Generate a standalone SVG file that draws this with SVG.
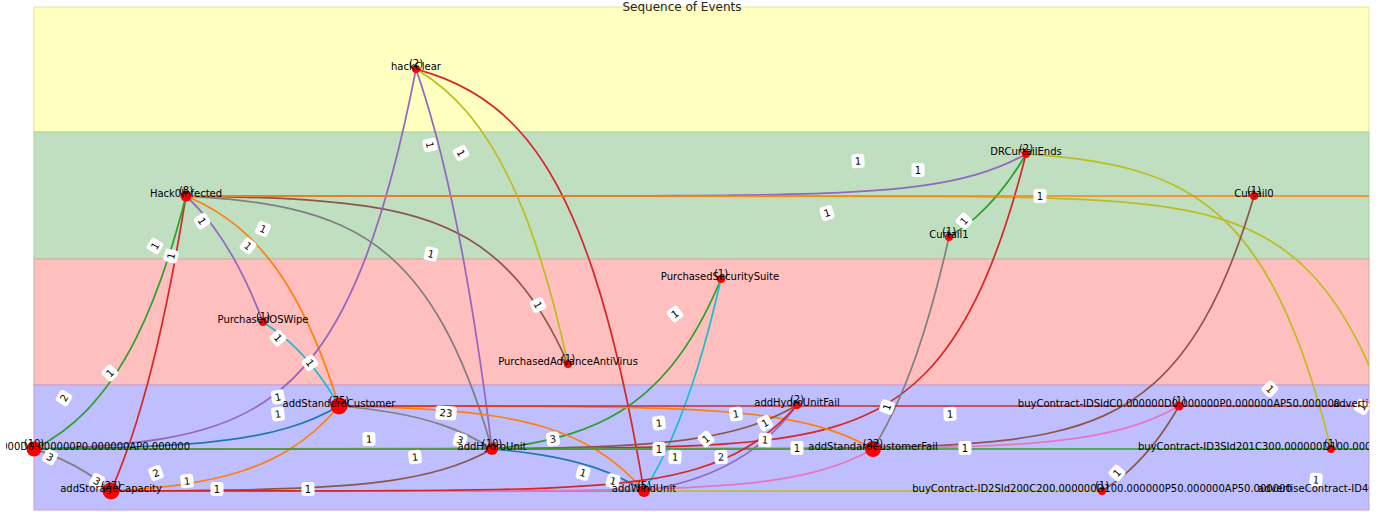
<svg xmlns="http://www.w3.org/2000/svg" width="1384" height="512" viewBox="0 0 1384 512">
<style>
.e{fill:none;stroke-width:1.7}
.bl{stroke:#1f77b4}.or{stroke:#ff7f0e}.gr{stroke:#2ca02c}.rd{stroke:#d62728}.pu{stroke:#9467bd}
.br{stroke:#8c564b}.pk{stroke:#e377c2}.gy{stroke:#7f7f7f}.ol{stroke:#bcbd22}.cy{stroke:#17becf}
.lb rect{fill:#fff}
.lb text{font-family:'DejaVu Sans',sans-serif;font-size:10px;text-anchor:middle;fill:#000}
.nd circle{fill:#ff0000}
.nd text{font-family:'DejaVu Sans',sans-serif;font-size:10px;text-anchor:middle;fill:#000}
.band{stroke-width:1}
</style>
<defs>
<!-- unit exponential profile y = exp(0.0135 x), x in [-1800, 0]; each edge rescales it vertically -->
<path id="ex" fill="none" vector-effect="non-scaling-stroke" d="M-1800,0 L-500,0.001171 C-483.333,0.001434 -466.667,0.001783 -450,0.002300 C-433.333,0.002818 -416.667,0.003501 -400,0.004517 C-383.333,0.005533 -366.667,0.006875 -350,0.008871 C-333.333,0.010867 -316.667,0.013502 -300,0.017422 C-283.333,0.021342 -266.667,0.026519 -250,0.034218 C-233.333,0.041917 -216.667,0.052085 -200,0.067206 C-183.333,0.082327 -166.667,0.102295 -150,0.131994 C-133.333,0.161693 -116.667,0.200911 -100,0.259240 C-83.333,0.317569 -66.667,0.394596 -50,0.509156 C-33.333,0.623716 -16.667,0.775 0,1"/>
<clipPath id="ax"><rect x="34" y="7" width="1335" height="503"/></clipPath>
<clipPath id="vw"><rect x="6" y="0" width="1363" height="512"/></clipPath>
<clipPath id="k1"><rect x="34" y="0" width="152" height="512"/></clipPath>
<clipPath id="k2"><rect x="111" y="0" width="75" height="512"/></clipPath>
<clipPath id="k3"><rect x="186" y="0" width="77" height="512"/></clipPath>
<clipPath id="k4"><rect x="186" y="0" width="382" height="512"/></clipPath>
<clipPath id="k5"><rect x="186" y="0" width="306" height="512"/></clipPath>
<clipPath id="k6"><rect x="416" y="0" width="76" height="512"/></clipPath>
<clipPath id="k7"><rect x="416" y="0" width="228" height="512"/></clipPath>
<clipPath id="k8"><rect x="186" y="0" width="1224" height="512"/></clipPath>
<clipPath id="k9"><rect x="416" y="0" width="152" height="512"/></clipPath>
<clipPath id="k10"><rect x="492" y="0" width="229" height="512"/></clipPath>
<clipPath id="k11"><rect x="186" y="0" width="840" height="512"/></clipPath>
<clipPath id="k12"><rect x="34" y="0" width="992" height="512"/></clipPath>
<clipPath id="k13"><rect x="949" y="0" width="77" height="512"/></clipPath>
<clipPath id="k14"><rect x="34" y="0" width="382" height="512"/></clipPath>
<clipPath id="k15"><rect x="263" y="0" width="76" height="512"/></clipPath>
<clipPath id="k16"><rect x="186" y="0" width="153" height="512"/></clipPath>
<clipPath id="k17"><rect x="34" y="0" width="1220" height="512"/></clipPath>
<clipPath id="k18"><rect x="34" y="0" width="305" height="512"/></clipPath>
<clipPath id="k19"><rect x="34" y="0" width="77" height="512"/></clipPath>
<clipPath id="k20"><rect x="111" y="0" width="228" height="512"/></clipPath>
<clipPath id="k21"><rect x="111" y="0" width="381" height="512"/></clipPath>
<clipPath id="k22"><rect x="339" y="0" width="534" height="512"/></clipPath>
<clipPath id="k23"><rect x="339" y="0" width="153" height="512"/></clipPath>
<clipPath id="k24"><rect x="492" y="0" width="305" height="512"/></clipPath>
<clipPath id="k25"><rect x="111" y="0" width="686" height="512"/></clipPath>
<clipPath id="k26"><rect x="644" y="0" width="153" height="512"/></clipPath>
<clipPath id="k29"><rect x="111" y="0" width="762" height="512"/></clipPath>
<clipPath id="k30"><rect x="339" y="0" width="305" height="512"/></clipPath>
<clipPath id="k31"><rect x="492" y="0" width="152" height="512"/></clipPath>
<clipPath id="k32"><rect x="873" y="0" width="76" height="512"/></clipPath>
<clipPath id="k33"><rect x="34" y="0" width="1145" height="512"/></clipPath>
<clipPath id="k34"><rect x="1026" y="0" width="305" height="512"/></clipPath>
<clipPath id="k35"><rect x="1102" y="0" width="77" height="512"/></clipPath>
<clipPath id="k37"><rect x="644" y="0" width="77" height="512"/></clipPath>
</defs>

<rect width="1384" height="512" fill="#ffffff"/>

<!-- horizontal bands -->
<g id="bands">
<rect class="band" x="34" y="7" width="1335" height="125" fill="#ffffc0" stroke="#e6e69a"/>
<rect class="band" x="34" y="132" width="1335" height="127" fill="#c0dfc0" stroke="#a8d2a0"/>
<rect class="band" x="34" y="259" width="1335" height="126" fill="#ffbfbf" stroke="#d9a59c"/>
<rect class="band" x="34" y="385" width="1335" height="125" fill="#bfbfff" stroke="#c79ad8"/>
</g>

<text x="682" y="11" font-family="'DejaVu Sans',sans-serif" font-size="12" text-anchor="middle" fill="#262626">Sequence of Events</text>

<g id="connectors" clip-path="url(#ax)">
<g id="edges">
<g clip-path="url(#k4)"><use href="#ex" class="e br" transform="translate(568,195.03) scale(1,168.97)"/></g>
<g clip-path="url(#k5)"><use href="#ex" class="e gy" transform="translate(492,191.87) scale(1,257.13)"/></g>
<g clip-path="url(#k3)"><use href="#ex" class="e pu" transform="translate(263,127.07) scale(1,194.93)"/></g>
<g clip-path="url(#k16)"><use href="#ex" class="e or" transform="translate(339,165.52) scale(1,240.48)"/></g>
<g clip-path="url(#k8)"><use href="#ex" class="e ol" transform="translate(1410,196) scale(1,295)"/></g>
<g clip-path="url(#k11)"><use href="#ex" class="e pu" transform="translate(1026,196) scale(1,-42)"/></g>
<g clip-path="url(#k6)"><use href="#ex" class="e pu" transform="translate(492,-143.3) scale(1,592.3)"/></g>
<g clip-path="url(#k7)"><use href="#ex" class="e rd" transform="translate(644,48.63) scale(1,442.37)"/></g>
<g clip-path="url(#k9)"><use href="#ex" class="e ol" transform="translate(568,25.51) scale(1,338.49)"/></g>
<g clip-path="url(#k14)"><use href="#ex" class="e pu" transform="translate(416,451.2) scale(1,-382.2)"/></g>
<g clip-path="url(#k2)"><use href="#ex" class="e rd" transform="translate(186,659.3) scale(1,-463.3)"/></g>
<g clip-path="url(#k1)"><use href="#ex" class="e gr" transform="translate(186,486.3) scale(1,-290.3)"/></g>
<g clip-path="url(#k15)"><use href="#ex" class="e cy" transform="translate(339,275.07) scale(1,130.93)"/></g>
<g clip-path="url(#k10)"><use href="#ex" class="e gr" transform="translate(721,457.09) scale(1,-178.09)"/></g>
<g clip-path="url(#k37)"><use href="#ex" class="e cy" transform="translate(721,606.99) scale(1,-327.99)"/></g>
<g clip-path="url(#k13)"><use href="#ex" class="e gr" transform="translate(1026,282.41) scale(1,-128.41)"/></g>
<g clip-path="url(#k34)"><use href="#ex" class="e ol" transform="translate(1331,149.12) scale(1,299.88)"/></g>
<g clip-path="url(#k17)"><use href="#ex" class="e br" transform="translate(1254,449) scale(1,-253)"/></g>
<g clip-path="url(#k12)"><use href="#ex" class="e rd" transform="translate(1026,449) scale(1,-295)"/></g>
<g clip-path="url(#k33)"><use href="#ex" class="e pk" transform="translate(1179,449) scale(1,-43)"/></g>
<g clip-path="url(#k32)"><use href="#ex" class="e gy" transform="translate(949,567.44) scale(1,-330.44)"/></g>
<g clip-path="url(#k35)"><use href="#ex" class="e br" transform="translate(1179,537.5) scale(1,-131.5)"/></g>
<g clip-path="url(#k18)"><use href="#ex" class="e bl" transform="translate(339,449.71) scale(1,-43.71)"/></g>
<g clip-path="url(#k19)"><use href="#ex" class="e gy" transform="translate(111,426.02) scale(1,64.98)"/></g>
<g clip-path="url(#k20)"><use href="#ex" class="e or" transform="translate(339,495.1) scale(1,-89.1)"/></g>
<g clip-path="url(#k21)"><use href="#ex" class="e br" transform="translate(492,491.25) scale(1,-42.25)"/></g>
<g clip-path="url(#k23)"><use href="#ex" class="e gy" transform="translate(492,399.76) scale(1,49.24)"/></g>
<g clip-path="url(#k22)"><use href="#ex" class="e or" transform="translate(873,405.97) scale(1,43.03)"/></g>
<g clip-path="url(#k30)"><use href="#ex" class="e or" transform="translate(644,404.59) scale(1,86.41)"/></g>
<g clip-path="url(#k24)"><use href="#ex" class="e br" transform="translate(797,449.73) scale(1,-44.73)"/></g>
<g clip-path="url(#k31)"><use href="#ex" class="e bl" transform="translate(644,442.81) scale(1,48.19)"/></g>
<g clip-path="url(#k26)"><use href="#ex" class="e pu" transform="translate(797,503.48) scale(1,-98.48)"/></g>
<!-- straight runs along a row -->
<path class="e or" d="M186,196 H1369"/>
<path class="e rd" d="M339,406 H1369"/>
<path class="e gr" d="M34,449 H1369"/>
<path class="e ol" d="M111,491 H1102"/>
<path class="e cy" d="M111,491 H644"/>
<g clip-path="url(#k29)"><use href="#ex" class="e pk" transform="translate(873,491) scale(1,-42)"/></g>
<g clip-path="url(#k25)"><use href="#ex" class="e rd" transform="translate(797,491) scale(1,-86)"/></g>
</g>

<g id="edge-labels" class="lb">
<g transform="translate(155,246) rotate(-59)"><rect x="-6.5" y="-7" width="13" height="14" rx="3"/><text y="3.6">1</text></g>
<g transform="translate(171,256) rotate(-75.7)"><rect x="-6.5" y="-7" width="13" height="14" rx="3"/><text y="3.6">1</text></g>
<g transform="translate(202,221) rotate(58.6)"><rect x="-6.5" y="-7" width="13" height="14" rx="3"/><text y="3.6">1</text></g>
<g transform="translate(263,229) rotate(23.7)"><rect x="-6.5" y="-7" width="13" height="14" rx="3"/><text y="3.6">1</text></g>
<g transform="translate(248,246) rotate(39.6)"><rect x="-6.5" y="-7" width="13" height="14" rx="3"/><text y="3.6">1</text></g>
<g transform="translate(430,145) rotate(78.7)"><rect x="-6.5" y="-7" width="13" height="14" rx="3"/><text y="3.6">1</text></g>
<g transform="translate(461,153) rotate(61.6)"><rect x="-6.5" y="-7" width="13" height="14" rx="3"/><text y="3.6">1</text></g>
<g transform="translate(431,254) rotate(13.5)"><rect x="-6.5" y="-7" width="13" height="14" rx="3"/><text y="3.6">1</text></g>
<g transform="translate(538,305) rotate(62.7)"><rect x="-6.5" y="-7" width="13" height="14" rx="3"/><text y="3.6">1</text></g>
<g transform="translate(675,314) rotate(-36.6)"><rect x="-6.5" y="-7" width="13" height="14" rx="3"/><text y="3.6">1</text></g>
<g transform="translate(858,161) rotate(-2.9)"><rect x="-6.5" y="-7" width="13" height="14" rx="3"/><text y="3.6">1</text></g>
<g transform="translate(918,170)"><rect x="-6.5" y="-7" width="13" height="14" rx="3"/><text y="3.6">1</text></g>
<g transform="translate(827,213) rotate(-16.6)"><rect x="-6.5" y="-7" width="13" height="14" rx="3"/><text y="3.6">1</text></g>
<g transform="translate(964,221) rotate(-47.1)"><rect x="-6.5" y="-7" width="13" height="14" rx="3"/><text y="3.6">1</text></g>
<g transform="translate(1040,196)"><rect x="-6.5" y="-7" width="13" height="14" rx="3"/><text y="3.6">1</text></g>
<g transform="translate(110,373) rotate(-44.8)"><rect x="-6.5" y="-7" width="13" height="14" rx="3"/><text y="3.6">1</text></g>
<g transform="translate(64,398) rotate(-59)"><rect x="-6.5" y="-7" width="13" height="14" rx="3"/><text y="3.6">2</text></g>
<g transform="translate(278,338) rotate(47.9)"><rect x="-6.5" y="-7" width="13" height="14" rx="3"/><text y="3.6">1</text></g>
<g transform="translate(310,363) rotate(53.9)"><rect x="-6.5" y="-7" width="13" height="14" rx="3"/><text y="3.6">1</text></g>
<g transform="translate(278,397) rotate(-11.7)"><rect x="-6.5" y="-7" width="13" height="14" rx="3"/><text y="3.6">1</text></g>
<g transform="translate(278,414) rotate(-8)"><rect x="-6.5" y="-7" width="13" height="14" rx="3"/><text y="3.6">1</text></g>
<g transform="translate(50,457) rotate(28.6)"><rect x="-6.5" y="-7" width="13" height="14" rx="3"/><text y="3.6">3</text></g>
<g transform="translate(97,481) rotate(28.6)"><rect x="-6.5" y="-7" width="13" height="14" rx="3"/><text y="3.6">3</text></g>
<g transform="translate(156,473) rotate(-20.4)"><rect x="-6.5" y="-7" width="13" height="14" rx="3"/><text y="3.6">2</text></g>
<g transform="translate(187,481) rotate(-6.3)"><rect x="-6.5" y="-7" width="13" height="14" rx="3"/><text y="3.6">1</text></g>
<g transform="translate(217,489)"><rect x="-6.5" y="-7" width="13" height="14" rx="3"/><text y="3.6">1</text></g>
<g transform="translate(308,489)"><rect x="-6.5" y="-7" width="13" height="14" rx="3"/><text y="3.6">1</text></g>
<g transform="translate(369,439) rotate(-1.5)"><rect x="-6.5" y="-7" width="13" height="14" rx="3"/><text y="3.6">1</text></g>
<g transform="translate(415,457) rotate(-6.3)"><rect x="-6.5" y="-7" width="13" height="14" rx="3"/><text y="3.6">1</text></g>
<g transform="translate(446,413) rotate(4.6)"><rect x="-10.5" y="-7" width="21" height="14" rx="3"/><text y="3.6">23</text></g>
<g transform="translate(460,440) rotate(15.7)"><rect x="-6.5" y="-7" width="13" height="14" rx="3"/><text y="3.6">3</text></g>
<g transform="translate(553,439) rotate(-8.2)"><rect x="-6.5" y="-7" width="13" height="14" rx="3"/><text y="3.6">3</text></g>
<g transform="translate(659,423) rotate(-7.1)"><rect x="-6.5" y="-7" width="13" height="14" rx="3"/><text y="3.6">1</text></g>
<g transform="translate(736,414) rotate(-8.2)"><rect x="-6.5" y="-7" width="13" height="14" rx="3"/><text y="3.6">1</text></g>
<g transform="translate(765,423) rotate(-29.3)"><rect x="-6.5" y="-7" width="13" height="14" rx="3"/><text y="3.6">1</text></g>
<g transform="translate(765,440) rotate(4.6)"><rect x="-6.5" y="-7" width="13" height="14" rx="3"/><text y="3.6">1</text></g>
<g transform="translate(706,439) rotate(-39.8)"><rect x="-6.5" y="-7" width="13" height="14" rx="3"/><text y="3.6">1</text></g>
<g transform="translate(675,457) rotate(2.6)"><rect x="-6.5" y="-7" width="13" height="14" rx="3"/><text y="3.6">1</text></g>
<g transform="translate(659,449)"><rect x="-6.5" y="-7" width="13" height="14" rx="3"/><text y="3.6">1</text></g>
<g transform="translate(721,457) rotate(-3.2)"><rect x="-6.5" y="-7" width="13" height="14" rx="3"/><text y="3.6">2</text></g>
<g transform="translate(797,448)"><rect x="-6.5" y="-7" width="13" height="14" rx="3"/><text y="3.6">1</text></g>
<g transform="translate(583,473) rotate(15.6)"><rect x="-6.5" y="-7" width="13" height="14" rx="3"/><text y="3.6">1</text></g>
<g transform="translate(613,481) rotate(15.4)"><rect x="-6.5" y="-7" width="13" height="14" rx="3"/><text y="3.6">1</text></g>
<g transform="translate(887,407) rotate(-70.3)"><rect x="-6.5" y="-7" width="13" height="14" rx="3"/><text y="3.6">1</text></g>
<g transform="translate(950,414) rotate(-2.2)"><rect x="-6.5" y="-7" width="13" height="14" rx="3"/><text y="3.6">1</text></g>
<g transform="translate(965,448)"><rect x="-6.5" y="-7" width="13" height="14" rx="3"/><text y="3.6">1</text></g>
<g transform="translate(1270,389) rotate(44)"><rect x="-6.5" y="-7" width="13" height="14" rx="3"/><text y="3.6">1</text></g>
<g transform="translate(1362,407) rotate(-60)"><rect x="-6.5" y="-7" width="13" height="14" rx="3"/><text y="3.6">1</text></g>
<g transform="translate(1117,473) rotate(-47.8)"><rect x="-6.5" y="-7" width="13" height="14" rx="3"/><text y="3.6">1</text></g>
<g transform="translate(1316,480) rotate(4.5)"><rect x="-6.5" y="-7" width="13" height="14" rx="3"/><text y="3.6">1</text></g>
</g>
</g>

<g id="nodes" clip-path="url(#vw)">
<g id="n-hackClear" class="nd"><circle cx="416" cy="69" r="4"/><text x="416" y="70">hackClear</text><text x="416" y="67">(2)</text></g>
<g id="n-Hack0Infected" class="nd"><circle cx="186" cy="196" r="5.5"/><text x="186" y="197">Hack0Infected</text><text x="186" y="194">(8)</text></g>
<g id="n-DRCurtailEnds" class="nd"><circle cx="1026" cy="154" r="4"/><text x="1026" y="155">DRCurtailEnds</text><text x="1026" y="152">(2)</text></g>
<g id="n-Curtail0" class="nd"><circle cx="1254" cy="196" r="4"/><text x="1254" y="197">Curtail0</text><text x="1254" y="194">(1)</text></g>
<g id="n-Curtail1" class="nd"><circle cx="949" cy="237" r="4"/><text x="949" y="238">Curtail1</text><text x="949" y="235">(1)</text></g>
<g id="n-PurchasedSecuritySuite" class="nd"><circle cx="721" cy="279" r="4"/><text x="720" y="280">PurchasedSecuritySuite</text><text x="721" y="277">(1)</text></g>
<g id="n-PurchasedOSWipe" class="nd"><circle cx="263" cy="322" r="4"/><text x="263" y="323">PurchasedOSWipe</text><text x="263" y="320">(1)</text></g>
<g id="n-PurchasedAdvanceAntiVirus" class="nd"><circle cx="568" cy="364" r="4"/><text x="568" y="365">PurchasedAdvanceAntiVirus</text><text x="568" y="362">(1)</text></g>
<g id="n-addStandardCustomer" class="nd"><circle cx="339" cy="406" r="8.5"/><text x="339" y="407">addStandardCustomer</text><text x="339" y="404">(75)</text></g>
<g id="n-addHydroUnitFail" class="nd"><circle cx="797" cy="405" r="4"/><text x="797" y="406">addHydroUnitFail</text><text x="797" y="403">(2)</text></g>
<g id="n-buyContract-IDSIdC0" class="nd"><circle cx="1179" cy="406" r="4.5"/><text x="1179" y="407">buyContract-IDSIdC0.000000D0.000000P0.000000AP50.000000</text><text x="1179" y="404">(1)</text></g>
<g id="n-advertise-row8" class="nd"><text x="1333" y="407" style="text-anchor:start">advertiseContract</text></g>
<g id="n-buyContract-left" class="nd"><circle cx="34" cy="449" r="7.5"/><text x="190" y="450" style="text-anchor:end">0000D0.000000P0.000000AP0.000000</text><text x="34" y="447">(10)</text></g>
<g id="n-addHydroUnit" class="nd"><circle cx="492" cy="449" r="6"/><text x="492" y="450">addHydroUnit</text><text x="492" y="447">(10)</text></g>
<g id="n-addStandardCustomerFail" class="nd"><circle cx="873" cy="449" r="8"/><text x="873" y="450">addStandardCustomerFail</text><text x="873" y="447">(22)</text></g>
<g id="n-buyContract-ID3" class="nd"><circle cx="1331" cy="449" r="4"/><text x="1138" y="450" style="text-anchor:start">buyContract-ID3SId201C300.000000D100.000000</text><text x="1331" y="447">(1)</text></g>
<g id="n-addStorageCapacity" class="nd"><circle cx="111" cy="491" r="8.5"/><text x="111" y="492">addStorageCapacity</text><text x="111" y="489">(27)</text></g>
<g id="n-addWindUnit" class="nd"><circle cx="644" cy="491" r="6"/><text x="644" y="492">addWindUnit</text><text x="644" y="489">(5)</text></g>
<g id="n-buyContract-ID2" class="nd"><circle cx="1102" cy="491" r="4"/><text x="1102" y="492">buyContract-ID2SId200C200.000000D100.000000P50.000000AP50.000000</text><text x="1102" y="489">(1)</text></g>
<g id="n-advertiseContract-ID4" class="nd"><text x="1258" y="492" style="text-anchor:start">advertiseContract-ID4C0</text></g>
</g>
</svg>
